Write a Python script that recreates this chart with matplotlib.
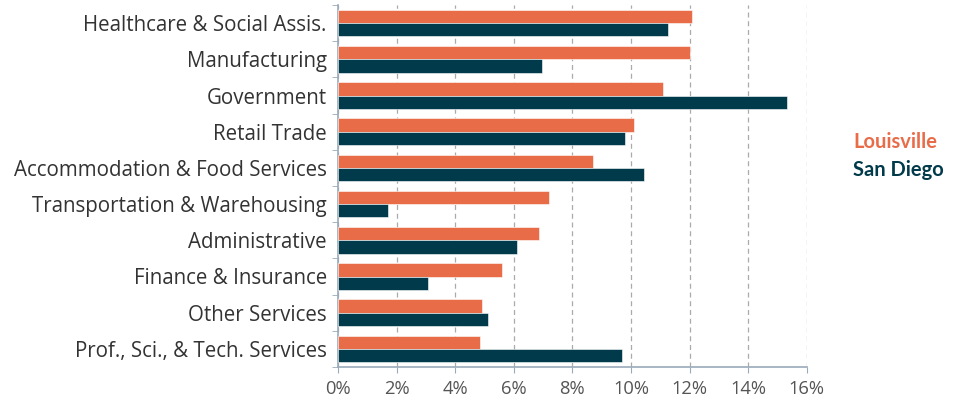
import matplotlib
matplotlib.use('Agg')
import matplotlib.pyplot as plt
import numpy as np

categories = ['Healthcare & Social Assis.', 'Manufacturing', 'Government', 'Retail Trade',
              'Accommodation & Food Services', 'Transportation & Warehousing', 'Administrative',
              'Finance & Insurance', 'Other Services', 'Prof., Sci., & Tech. Services']
louisville = [12.07, 12.0, 11.08, 10.12, 8.72, 7.21, 6.87, 5.61, 4.92, 4.85]
san_diego = [11.25, 6.97, 15.32, 9.81, 10.46, 1.71, 6.12, 3.08, 5.13, 9.68]
xticks = [0, 2, 4, 6, 8, 10, 12, 14, 16]

orange = '#E96C49'
navy = '#013A4A'
axcol = '#9AAABB'

plt.rcParams['font.family'] = ['Open Sans', 'DejaVu Sans']

fig = plt.figure(figsize=(9.64, 4.0), dpi=100)
ax = fig.add_axes([0.3506, 0.0825, 0.4862, 0.905])

y = np.arange(len(categories))
h = 0.37
ax.barh(y - h / 2, louisville, height=h, color=orange, edgecolor='white', linewidth=0.4, zorder=3)
ax.barh(y + h / 2, san_diego, height=h, color=navy, edgecolor='white', linewidth=0.4, zorder=3)

ax.set_ylim(len(categories) - 0.5, -0.5)
ax.set_xlim(0, 16)
ax.set_xticks(xticks)
ax.set_xticklabels([f'{t}%' for t in xticks], fontsize=13.2, color='#555555')
ax.set_yticks(y)
ax.set_yticklabels(categories, fontsize=14.8, color='#333333')
ax.set_yticks(np.arange(len(categories) + 1) - 0.5, minor=True)
ax.tick_params(axis='y', which='major', length=0, pad=8)
ax.tick_params(axis='y', which='minor', length=4, color=axcol)
ax.tick_params(axis='x', length=4, color=axcol, pad=5)

ax.grid(axis='x', linestyle=(0, (4, 3)), color='#AAAAAA', linewidth=0.9, zorder=0)
for s in ['top', 'right']:
    ax.spines[s].set_visible(False)
for s in ['left', 'bottom']:
    ax.spines[s].set_color(axcol)
    ax.spines[s].set_linewidth(1.2)

fig.text(0.885, 0.645, 'Louisville', color=orange, fontsize=14.5, fontweight='bold',
         family=['Lato', 'DejaVu Sans'], ha='left', va='center')
fig.text(0.885, 0.575, 'San Diego', color=navy, fontsize=14.5, fontweight='bold',
         family=['Lato', 'DejaVu Sans'], ha='left', va='center')

fig.savefig('out.png', dpi=100)
